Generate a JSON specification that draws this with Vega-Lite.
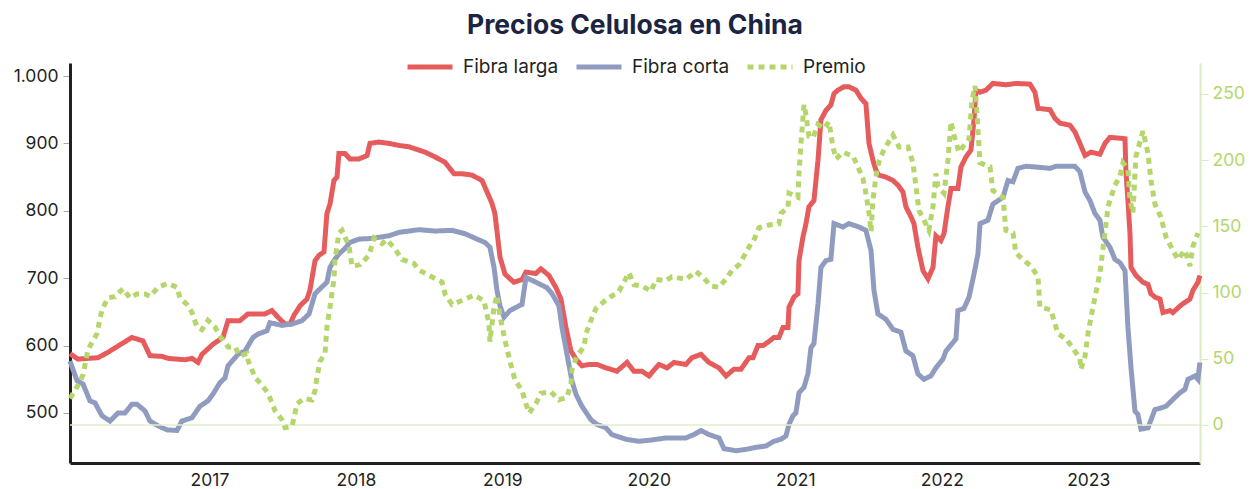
{
"$schema":"https://vega.github.io/schema/vega-lite/v6.json",
"width":1130,"height":400,
"autosize":{"type":"none"},
"padding":{"left":70,"top":63,"right":55,"bottom":26},
"title":{"text":"Precios Celulosa en China","font":"Inter","fontSize":26.5,"fontWeight":"bold","color":"#1b2440","anchor":"middle","offset":3},
"config":{"view":{"stroke":null},"axis":{"grid":false,"title":null,"labelFont":"Inter","labelFontSize":17.5,"labelColor":"#231f20"},
"legend":{"orient":"none","legendX":335,"legendY":-21,"direction":"horizontal","title":null,"labelFont":"Inter","labelFontSize":19,"labelColor":"#231f20","symbolType":"stroke","symbolSize":2025,"symbolStrokeWidth":5,"columnPadding":7,"labelOffset":8}},
"data":{"values":[
{"t":2016.048,"s":"Fibra larga","v":588},{"t":2016.102,"s":"Fibra larga","v":580},{"t":2016.239,"s":"Fibra larga","v":582},{"t":2016.307,"s":"Fibra larga","v":590},{"t":2016.403,"s":"Fibra larga","v":603},{"t":2016.471,"s":"Fibra larga","v":612},{"t":2016.546,"s":"Fibra larga","v":607},{"t":2016.594,"s":"Fibra larga","v":585},{"t":2016.676,"s":"Fibra larga","v":584},{"t":2016.717,"s":"Fibra larga","v":581},{"t":2016.833,"s":"Fibra larga","v":579},{"t":2016.881,"s":"Fibra larga","v":581},{"t":2016.922,"s":"Fibra larga","v":575},{"t":2016.949,"s":"Fibra larga","v":587},{"t":2017.024,"s":"Fibra larga","v":602},{"t":2017.092,"s":"Fibra larga","v":612},{"t":2017.127,"s":"Fibra larga","v":637},{"t":2017.208,"s":"Fibra larga","v":637},{"t":2017.263,"s":"Fibra larga","v":647},{"t":2017.379,"s":"Fibra larga","v":647},{"t":2017.427,"s":"Fibra larga","v":652},{"t":2017.468,"s":"Fibra larga","v":642},{"t":2017.516,"s":"Fibra larga","v":632},{"t":2017.550,"s":"Fibra larga","v":632},{"t":2017.577,"s":"Fibra larga","v":645},{"t":2017.598,"s":"Fibra larga","v":652},{"t":2017.618,"s":"Fibra larga","v":659},{"t":2017.666,"s":"Fibra larga","v":669},{"t":2017.686,"s":"Fibra larga","v":682},{"t":2017.721,"s":"Fibra larga","v":726},{"t":2017.748,"s":"Fibra larga","v":734},{"t":2017.782,"s":"Fibra larga","v":739},{"t":2017.802,"s":"Fibra larga","v":796},{"t":2017.823,"s":"Fibra larga","v":810},{"t":2017.850,"s":"Fibra larga","v":845},{"t":2017.871,"s":"Fibra larga","v":850},{"t":2017.884,"s":"Fibra larga","v":885},{"t":2017.925,"s":"Fibra larga","v":885},{"t":2017.959,"s":"Fibra larga","v":877},{"t":2018.021,"s":"Fibra larga","v":877},{"t":2018.076,"s":"Fibra larga","v":882},{"t":2018.096,"s":"Fibra larga","v":900},{"t":2018.157,"s":"Fibra larga","v":902},{"t":2018.226,"s":"Fibra larga","v":900},{"t":2018.294,"s":"Fibra larga","v":897},{"t":2018.362,"s":"Fibra larga","v":895},{"t":2018.431,"s":"Fibra larga","v":890},{"t":2018.472,"s":"Fibra larga","v":887},{"t":2018.540,"s":"Fibra larga","v":880},{"t":2018.608,"s":"Fibra larga","v":872},{"t":2018.670,"s":"Fibra larga","v":855},{"t":2018.724,"s":"Fibra larga","v":855},{"t":2018.792,"s":"Fibra larga","v":853},{"t":2018.861,"s":"Fibra larga","v":845},{"t":2018.895,"s":"Fibra larga","v":828},{"t":2018.929,"s":"Fibra larga","v":811},{"t":2018.949,"s":"Fibra larga","v":796},{"t":2018.984,"s":"Fibra larga","v":731},{"t":2019.018,"s":"Fibra larga","v":706},{"t":2019.079,"s":"Fibra larga","v":694},{"t":2019.134,"s":"Fibra larga","v":698},{"t":2019.161,"s":"Fibra larga","v":709},{"t":2019.229,"s":"Fibra larga","v":707},{"t":2019.263,"s":"Fibra larga","v":714},{"t":2019.318,"s":"Fibra larga","v":704},{"t":2019.366,"s":"Fibra larga","v":686},{"t":2019.400,"s":"Fibra larga","v":669},{"t":2019.434,"s":"Fibra larga","v":627},{"t":2019.468,"s":"Fibra larga","v":592},{"t":2019.502,"s":"Fibra larga","v":580},{"t":2019.543,"s":"Fibra larga","v":570},{"t":2019.591,"s":"Fibra larga","v":572},{"t":2019.646,"s":"Fibra larga","v":572},{"t":2019.707,"s":"Fibra larga","v":567},{"t":2019.782,"s":"Fibra larga","v":562},{"t":2019.851,"s":"Fibra larga","v":575},{"t":2019.898,"s":"Fibra larga","v":562},{"t":2019.953,"s":"Fibra larga","v":562},{"t":2020.001,"s":"Fibra larga","v":555},{"t":2020.069,"s":"Fibra larga","v":572},{"t":2020.124,"s":"Fibra larga","v":567},{"t":2020.172,"s":"Fibra larga","v":575},{"t":2020.253,"s":"Fibra larga","v":572},{"t":2020.294,"s":"Fibra larga","v":582},{"t":2020.356,"s":"Fibra larga","v":587},{"t":2020.410,"s":"Fibra larga","v":575},{"t":2020.479,"s":"Fibra larga","v":567},{"t":2020.527,"s":"Fibra larga","v":555},{"t":2020.581,"s":"Fibra larga","v":565},{"t":2020.629,"s":"Fibra larga","v":565},{"t":2020.684,"s":"Fibra larga","v":582},{"t":2020.711,"s":"Fibra larga","v":582},{"t":2020.745,"s":"Fibra larga","v":600},{"t":2020.779,"s":"Fibra larga","v":600},{"t":2020.813,"s":"Fibra larga","v":605},{"t":2020.854,"s":"Fibra larga","v":612},{"t":2020.888,"s":"Fibra larga","v":612},{"t":2020.916,"s":"Fibra larga","v":627},{"t":2020.950,"s":"Fibra larga","v":627},{"t":2020.957,"s":"Fibra larga","v":657},{"t":2020.991,"s":"Fibra larga","v":672},{"t":2021.018,"s":"Fibra larga","v":677},{"t":2021.025,"s":"Fibra larga","v":726},{"t":2021.052,"s":"Fibra larga","v":761},{"t":2021.073,"s":"Fibra larga","v":781},{"t":2021.093,"s":"Fibra larga","v":806},{"t":2021.127,"s":"Fibra larga","v":815},{"t":2021.155,"s":"Fibra larga","v":875},{"t":2021.175,"s":"Fibra larga","v":935},{"t":2021.209,"s":"Fibra larga","v":949},{"t":2021.243,"s":"Fibra larga","v":957},{"t":2021.264,"s":"Fibra larga","v":974},{"t":2021.291,"s":"Fibra larga","v":979},{"t":2021.332,"s":"Fibra larga","v":984},{"t":2021.366,"s":"Fibra larga","v":984},{"t":2021.414,"s":"Fibra larga","v":979},{"t":2021.448,"s":"Fibra larga","v":967},{"t":2021.482,"s":"Fibra larga","v":959},{"t":2021.503,"s":"Fibra larga","v":900},{"t":2021.530,"s":"Fibra larga","v":875},{"t":2021.551,"s":"Fibra larga","v":860},{"t":2021.571,"s":"Fibra larga","v":853},{"t":2021.619,"s":"Fibra larga","v":850},{"t":2021.667,"s":"Fibra larga","v":845},{"t":2021.701,"s":"Fibra larga","v":838},{"t":2021.735,"s":"Fibra larga","v":828},{"t":2021.755,"s":"Fibra larga","v":806},{"t":2021.790,"s":"Fibra larga","v":791},{"t":2021.810,"s":"Fibra larga","v":781},{"t":2021.837,"s":"Fibra larga","v":746},{"t":2021.872,"s":"Fibra larga","v":711},{"t":2021.906,"s":"Fibra larga","v":699},{"t":2021.940,"s":"Fibra larga","v":716},{"t":2021.960,"s":"Fibra larga","v":763},{"t":2021.994,"s":"Fibra larga","v":756},{"t":2022.015,"s":"Fibra larga","v":766},{"t":2022.042,"s":"Fibra larga","v":806},{"t":2022.063,"s":"Fibra larga","v":833},{"t":2022.110,"s":"Fibra larga","v":833},{"t":2022.131,"s":"Fibra larga","v":865},{"t":2022.165,"s":"Fibra larga","v":880},{"t":2022.199,"s":"Fibra larga","v":890},{"t":2022.220,"s":"Fibra larga","v":935},{"t":2022.233,"s":"Fibra larga","v":979},{"t":2022.261,"s":"Fibra larga","v":976},{"t":2022.302,"s":"Fibra larga","v":979},{"t":2022.349,"s":"Fibra larga","v":989},{"t":2022.438,"s":"Fibra larga","v":987},{"t":2022.506,"s":"Fibra larga","v":989},{"t":2022.602,"s":"Fibra larga","v":988},{"t":2022.636,"s":"Fibra larga","v":976},{"t":2022.657,"s":"Fibra larga","v":952},{"t":2022.739,"s":"Fibra larga","v":950},{"t":2022.773,"s":"Fibra larga","v":937},{"t":2022.807,"s":"Fibra larga","v":930},{"t":2022.875,"s":"Fibra larga","v":927},{"t":2022.909,"s":"Fibra larga","v":917},{"t":2022.943,"s":"Fibra larga","v":900},{"t":2022.978,"s":"Fibra larga","v":882},{"t":2023.018,"s":"Fibra larga","v":887},{"t":2023.080,"s":"Fibra larga","v":884},{"t":2023.114,"s":"Fibra larga","v":900},{"t":2023.148,"s":"Fibra larga","v":909},{"t":2023.251,"s":"Fibra larga","v":907},{"t":2023.257,"s":"Fibra larga","v":860},{"t":2023.271,"s":"Fibra larga","v":815},{"t":2023.285,"s":"Fibra larga","v":766},{"t":2023.292,"s":"Fibra larga","v":716},{"t":2023.326,"s":"Fibra larga","v":704},{"t":2023.374,"s":"Fibra larga","v":694},{"t":2023.408,"s":"Fibra larga","v":691},{"t":2023.428,"s":"Fibra larga","v":677},{"t":2023.455,"s":"Fibra larga","v":672},{"t":2023.490,"s":"Fibra larga","v":669},{"t":2023.510,"s":"Fibra larga","v":649},{"t":2023.558,"s":"Fibra larga","v":652},{"t":2023.578,"s":"Fibra larga","v":649},{"t":2023.633,"s":"Fibra larga","v":660},{"t":2023.694,"s":"Fibra larga","v":669},{"t":2023.715,"s":"Fibra larga","v":682},{"t":2023.749,"s":"Fibra larga","v":694},{"t":2023.762,"s":"Fibra larga","v":704},
{"t":2016.048,"s":"Fibra corta","v":577},{"t":2016.096,"s":"Fibra corta","v":548},{"t":2016.137,"s":"Fibra corta","v":543},{"t":2016.184,"s":"Fibra corta","v":518},{"t":2016.219,"s":"Fibra corta","v":515},{"t":2016.266,"s":"Fibra corta","v":496},{"t":2016.321,"s":"Fibra corta","v":488},{"t":2016.376,"s":"Fibra corta","v":500},{"t":2016.423,"s":"Fibra corta","v":500},{"t":2016.471,"s":"Fibra corta","v":513},{"t":2016.505,"s":"Fibra corta","v":513},{"t":2016.560,"s":"Fibra corta","v":503},{"t":2016.594,"s":"Fibra corta","v":488},{"t":2016.649,"s":"Fibra corta","v":481},{"t":2016.710,"s":"Fibra corta","v":475},{"t":2016.778,"s":"Fibra corta","v":474},{"t":2016.812,"s":"Fibra corta","v":488},{"t":2016.881,"s":"Fibra corta","v":493},{"t":2016.935,"s":"Fibra corta","v":510},{"t":2016.990,"s":"Fibra corta","v":518},{"t":2017.024,"s":"Fibra corta","v":528},{"t":2017.072,"s":"Fibra corta","v":545},{"t":2017.106,"s":"Fibra corta","v":552},{"t":2017.127,"s":"Fibra corta","v":570},{"t":2017.195,"s":"Fibra corta","v":587},{"t":2017.243,"s":"Fibra corta","v":592},{"t":2017.297,"s":"Fibra corta","v":612},{"t":2017.331,"s":"Fibra corta","v":617},{"t":2017.393,"s":"Fibra corta","v":622},{"t":2017.413,"s":"Fibra corta","v":634},{"t":2017.495,"s":"Fibra corta","v":630},{"t":2017.564,"s":"Fibra corta","v":632},{"t":2017.632,"s":"Fibra corta","v":637},{"t":2017.680,"s":"Fibra corta","v":647},{"t":2017.721,"s":"Fibra corta","v":677},{"t":2017.768,"s":"Fibra corta","v":687},{"t":2017.802,"s":"Fibra corta","v":694},{"t":2017.823,"s":"Fibra corta","v":716},{"t":2017.850,"s":"Fibra corta","v":726},{"t":2017.884,"s":"Fibra corta","v":736},{"t":2017.925,"s":"Fibra corta","v":744},{"t":2017.959,"s":"Fibra corta","v":753},{"t":2018.021,"s":"Fibra corta","v":758},{"t":2018.110,"s":"Fibra corta","v":759},{"t":2018.226,"s":"Fibra corta","v":763},{"t":2018.294,"s":"Fibra corta","v":768},{"t":2018.431,"s":"Fibra corta","v":772},{"t":2018.540,"s":"Fibra corta","v":770},{"t":2018.656,"s":"Fibra corta","v":771},{"t":2018.745,"s":"Fibra corta","v":766},{"t":2018.827,"s":"Fibra corta","v":758},{"t":2018.881,"s":"Fibra corta","v":753},{"t":2018.915,"s":"Fibra corta","v":746},{"t":2018.943,"s":"Fibra corta","v":716},{"t":2018.963,"s":"Fibra corta","v":682},{"t":2018.984,"s":"Fibra corta","v":659},{"t":2019.011,"s":"Fibra corta","v":642},{"t":2019.052,"s":"Fibra corta","v":652},{"t":2019.113,"s":"Fibra corta","v":659},{"t":2019.134,"s":"Fibra corta","v":661},{"t":2019.161,"s":"Fibra corta","v":701},{"t":2019.229,"s":"Fibra corta","v":694},{"t":2019.304,"s":"Fibra corta","v":686},{"t":2019.339,"s":"Fibra corta","v":677},{"t":2019.386,"s":"Fibra corta","v":659},{"t":2019.407,"s":"Fibra corta","v":627},{"t":2019.441,"s":"Fibra corta","v":587},{"t":2019.475,"s":"Fibra corta","v":548},{"t":2019.502,"s":"Fibra corta","v":528},{"t":2019.543,"s":"Fibra corta","v":510},{"t":2019.605,"s":"Fibra corta","v":490},{"t":2019.646,"s":"Fibra corta","v":483},{"t":2019.707,"s":"Fibra corta","v":478},{"t":2019.748,"s":"Fibra corta","v":468},{"t":2019.844,"s":"Fibra corta","v":461},{"t":2019.933,"s":"Fibra corta","v":458},{"t":2020.021,"s":"Fibra corta","v":460},{"t":2020.117,"s":"Fibra corta","v":463},{"t":2020.253,"s":"Fibra corta","v":463},{"t":2020.308,"s":"Fibra corta","v":468},{"t":2020.356,"s":"Fibra corta","v":474},{"t":2020.410,"s":"Fibra corta","v":468},{"t":2020.479,"s":"Fibra corta","v":463},{"t":2020.513,"s":"Fibra corta","v":447},{"t":2020.595,"s":"Fibra corta","v":444},{"t":2020.663,"s":"Fibra corta","v":446},{"t":2020.731,"s":"Fibra corta","v":449},{"t":2020.800,"s":"Fibra corta","v":451},{"t":2020.854,"s":"Fibra corta","v":458},{"t":2020.902,"s":"Fibra corta","v":461},{"t":2020.936,"s":"Fibra corta","v":466},{"t":2020.957,"s":"Fibra corta","v":483},{"t":2020.984,"s":"Fibra corta","v":496},{"t":2021.004,"s":"Fibra corta","v":500},{"t":2021.025,"s":"Fibra corta","v":530},{"t":2021.059,"s":"Fibra corta","v":538},{"t":2021.086,"s":"Fibra corta","v":558},{"t":2021.107,"s":"Fibra corta","v":597},{"t":2021.127,"s":"Fibra corta","v":603},{"t":2021.155,"s":"Fibra corta","v":662},{"t":2021.175,"s":"Fibra corta","v":716},{"t":2021.209,"s":"Fibra corta","v":726},{"t":2021.243,"s":"Fibra corta","v":728},{"t":2021.264,"s":"Fibra corta","v":781},{"t":2021.325,"s":"Fibra corta","v":776},{"t":2021.366,"s":"Fibra corta","v":781},{"t":2021.435,"s":"Fibra corta","v":776},{"t":2021.482,"s":"Fibra corta","v":771},{"t":2021.517,"s":"Fibra corta","v":741},{"t":2021.537,"s":"Fibra corta","v":682},{"t":2021.564,"s":"Fibra corta","v":647},{"t":2021.619,"s":"Fibra corta","v":639},{"t":2021.667,"s":"Fibra corta","v":624},{"t":2021.721,"s":"Fibra corta","v":620},{"t":2021.755,"s":"Fibra corta","v":592},{"t":2021.803,"s":"Fibra corta","v":585},{"t":2021.837,"s":"Fibra corta","v":558},{"t":2021.878,"s":"Fibra corta","v":550},{"t":2021.926,"s":"Fibra corta","v":555},{"t":2021.960,"s":"Fibra corta","v":567},{"t":2022.008,"s":"Fibra corta","v":580},{"t":2022.029,"s":"Fibra corta","v":592},{"t":2022.097,"s":"Fibra corta","v":610},{"t":2022.110,"s":"Fibra corta","v":652},{"t":2022.151,"s":"Fibra corta","v":655},{"t":2022.186,"s":"Fibra corta","v":672},{"t":2022.220,"s":"Fibra corta","v":706},{"t":2022.247,"s":"Fibra corta","v":736},{"t":2022.261,"s":"Fibra corta","v":781},{"t":2022.315,"s":"Fibra corta","v":786},{"t":2022.349,"s":"Fibra corta","v":810},{"t":2022.384,"s":"Fibra corta","v":815},{"t":2022.418,"s":"Fibra corta","v":820},{"t":2022.452,"s":"Fibra corta","v":845},{"t":2022.486,"s":"Fibra corta","v":843},{"t":2022.520,"s":"Fibra corta","v":863},{"t":2022.575,"s":"Fibra corta","v":866},{"t":2022.643,"s":"Fibra corta","v":865},{"t":2022.739,"s":"Fibra corta","v":863},{"t":2022.780,"s":"Fibra corta","v":866},{"t":2022.909,"s":"Fibra corta","v":866},{"t":2022.943,"s":"Fibra corta","v":858},{"t":2022.978,"s":"Fibra corta","v":828},{"t":2023.012,"s":"Fibra corta","v":815},{"t":2023.046,"s":"Fibra corta","v":796},{"t":2023.080,"s":"Fibra corta","v":786},{"t":2023.100,"s":"Fibra corta","v":761},{"t":2023.148,"s":"Fibra corta","v":746},{"t":2023.182,"s":"Fibra corta","v":728},{"t":2023.217,"s":"Fibra corta","v":723},{"t":2023.251,"s":"Fibra corta","v":711},{"t":2023.271,"s":"Fibra corta","v":627},{"t":2023.292,"s":"Fibra corta","v":567},{"t":2023.319,"s":"Fibra corta","v":503},{"t":2023.339,"s":"Fibra corta","v":498},{"t":2023.360,"s":"Fibra corta","v":476},{"t":2023.408,"s":"Fibra corta","v":478},{"t":2023.455,"s":"Fibra corta","v":505},{"t":2023.490,"s":"Fibra corta","v":507},{"t":2023.531,"s":"Fibra corta","v":510},{"t":2023.578,"s":"Fibra corta","v":520},{"t":2023.626,"s":"Fibra corta","v":530},{"t":2023.660,"s":"Fibra corta","v":535},{"t":2023.681,"s":"Fibra corta","v":550},{"t":2023.729,"s":"Fibra corta","v":555},{"t":2023.749,"s":"Fibra corta","v":550},{"t":2023.762,"s":"Fibra corta","v":575},
{"t":2016.048,"s":"Premio","v":20},{"t":2016.102,"s":"Premio","v":30},{"t":2016.137,"s":"Premio","v":38},{"t":2016.171,"s":"Premio","v":57},{"t":2016.232,"s":"Premio","v":69},{"t":2016.266,"s":"Premio","v":87},{"t":2016.307,"s":"Premio","v":96},{"t":2016.355,"s":"Premio","v":97},{"t":2016.410,"s":"Premio","v":103},{"t":2016.457,"s":"Premio","v":96},{"t":2016.505,"s":"Premio","v":99},{"t":2016.560,"s":"Premio","v":99},{"t":2016.594,"s":"Premio","v":97},{"t":2016.649,"s":"Premio","v":104},{"t":2016.717,"s":"Premio","v":107},{"t":2016.778,"s":"Premio","v":104},{"t":2016.799,"s":"Premio","v":96},{"t":2016.847,"s":"Premio","v":91},{"t":2016.881,"s":"Premio","v":85},{"t":2016.915,"s":"Premio","v":74},{"t":2016.949,"s":"Premio","v":72},{"t":2016.990,"s":"Premio","v":79},{"t":2017.038,"s":"Premio","v":74},{"t":2017.072,"s":"Premio","v":67},{"t":2017.127,"s":"Premio","v":59},{"t":2017.174,"s":"Premio","v":59},{"t":2017.208,"s":"Premio","v":52},{"t":2017.256,"s":"Premio","v":54},{"t":2017.263,"s":"Premio","v":49},{"t":2017.311,"s":"Premio","v":36},{"t":2017.359,"s":"Premio","v":30},{"t":2017.400,"s":"Premio","v":24},{"t":2017.447,"s":"Premio","v":11},{"t":2017.495,"s":"Premio","v":4},{"t":2017.516,"s":"Premio","v":-2},{"t":2017.564,"s":"Premio","v":-1},{"t":2017.598,"s":"Premio","v":16},{"t":2017.645,"s":"Premio","v":20},{"t":2017.700,"s":"Premio","v":19},{"t":2017.721,"s":"Premio","v":26},{"t":2017.734,"s":"Premio","v":36},{"t":2017.755,"s":"Premio","v":48},{"t":2017.789,"s":"Premio","v":54},{"t":2017.802,"s":"Premio","v":74},{"t":2017.823,"s":"Premio","v":89},{"t":2017.850,"s":"Premio","v":110},{"t":2017.857,"s":"Premio","v":125},{"t":2017.884,"s":"Premio","v":145},{"t":2017.905,"s":"Premio","v":147},{"t":2017.953,"s":"Premio","v":135},{"t":2017.973,"s":"Premio","v":120},{"t":2018.028,"s":"Premio","v":121},{"t":2018.089,"s":"Premio","v":128},{"t":2018.123,"s":"Premio","v":141},{"t":2018.178,"s":"Premio","v":137},{"t":2018.212,"s":"Premio","v":140},{"t":2018.267,"s":"Premio","v":133},{"t":2018.315,"s":"Premio","v":125},{"t":2018.396,"s":"Premio","v":122},{"t":2018.431,"s":"Premio","v":117},{"t":2018.499,"s":"Premio","v":113},{"t":2018.588,"s":"Premio","v":108},{"t":2018.608,"s":"Premio","v":99},{"t":2018.656,"s":"Premio","v":91},{"t":2018.724,"s":"Premio","v":94},{"t":2018.806,"s":"Premio","v":98},{"t":2018.874,"s":"Premio","v":94},{"t":2018.908,"s":"Premio","v":77},{"t":2018.915,"s":"Premio","v":63},{"t":2018.943,"s":"Premio","v":89},{"t":2018.963,"s":"Premio","v":98},{"t":2018.984,"s":"Premio","v":82},{"t":2019.018,"s":"Premio","v":64},{"t":2019.052,"s":"Premio","v":48},{"t":2019.086,"s":"Premio","v":34},{"t":2019.134,"s":"Premio","v":26},{"t":2019.161,"s":"Premio","v":16},{"t":2019.182,"s":"Premio","v":9},{"t":2019.229,"s":"Premio","v":16},{"t":2019.263,"s":"Premio","v":24},{"t":2019.332,"s":"Premio","v":25},{"t":2019.386,"s":"Premio","v":19},{"t":2019.441,"s":"Premio","v":21},{"t":2019.468,"s":"Premio","v":31},{"t":2019.475,"s":"Premio","v":42},{"t":2019.509,"s":"Premio","v":52},{"t":2019.557,"s":"Premio","v":59},{"t":2019.571,"s":"Premio","v":69},{"t":2019.605,"s":"Premio","v":79},{"t":2019.639,"s":"Premio","v":88},{"t":2019.680,"s":"Premio","v":92},{"t":2019.728,"s":"Premio","v":96},{"t":2019.796,"s":"Premio","v":101},{"t":2019.864,"s":"Premio","v":115},{"t":2019.898,"s":"Premio","v":106},{"t":2019.953,"s":"Premio","v":105},{"t":2020.015,"s":"Premio","v":101},{"t":2020.049,"s":"Premio","v":110},{"t":2020.117,"s":"Premio","v":109},{"t":2020.158,"s":"Premio","v":112},{"t":2020.253,"s":"Premio","v":110},{"t":2020.322,"s":"Premio","v":116},{"t":2020.376,"s":"Premio","v":111},{"t":2020.424,"s":"Premio","v":105},{"t":2020.479,"s":"Premio","v":104},{"t":2020.533,"s":"Premio","v":111},{"t":2020.568,"s":"Premio","v":117},{"t":2020.615,"s":"Premio","v":121},{"t":2020.663,"s":"Premio","v":130},{"t":2020.697,"s":"Premio","v":137},{"t":2020.711,"s":"Premio","v":138},{"t":2020.752,"s":"Premio","v":149},{"t":2020.820,"s":"Premio","v":151},{"t":2020.888,"s":"Premio","v":152},{"t":2020.902,"s":"Premio","v":160},{"t":2020.950,"s":"Premio","v":164},{"t":2020.957,"s":"Premio","v":175},{"t":2021.018,"s":"Premio","v":172},{"t":2021.025,"s":"Premio","v":190},{"t":2021.039,"s":"Premio","v":213},{"t":2021.059,"s":"Premio","v":242},{"t":2021.073,"s":"Premio","v":234},{"t":2021.093,"s":"Premio","v":218},{"t":2021.121,"s":"Premio","v":217},{"t":2021.155,"s":"Premio","v":227},{"t":2021.196,"s":"Premio","v":224},{"t":2021.230,"s":"Premio","v":229},{"t":2021.257,"s":"Premio","v":210},{"t":2021.278,"s":"Premio","v":201},{"t":2021.325,"s":"Premio","v":206},{"t":2021.394,"s":"Premio","v":203},{"t":2021.428,"s":"Premio","v":195},{"t":2021.462,"s":"Premio","v":186},{"t":2021.482,"s":"Premio","v":175},{"t":2021.503,"s":"Premio","v":160},{"t":2021.517,"s":"Premio","v":146},{"t":2021.530,"s":"Premio","v":170},{"t":2021.551,"s":"Premio","v":188},{"t":2021.571,"s":"Premio","v":199},{"t":2021.605,"s":"Premio","v":208},{"t":2021.667,"s":"Premio","v":219},{"t":2021.708,"s":"Premio","v":210},{"t":2021.769,"s":"Premio","v":210},{"t":2021.803,"s":"Premio","v":198},{"t":2021.824,"s":"Premio","v":180},{"t":2021.844,"s":"Premio","v":162},{"t":2021.878,"s":"Premio","v":155},{"t":2021.912,"s":"Premio","v":147},{"t":2021.940,"s":"Premio","v":165},{"t":2021.960,"s":"Premio","v":190},{"t":2021.974,"s":"Premio","v":180},{"t":2022.015,"s":"Premio","v":175},{"t":2022.042,"s":"Premio","v":200},{"t":2022.063,"s":"Premio","v":229},{"t":2022.083,"s":"Premio","v":219},{"t":2022.117,"s":"Premio","v":206},{"t":2022.151,"s":"Premio","v":211},{"t":2022.186,"s":"Premio","v":216},{"t":2022.206,"s":"Premio","v":245},{"t":2022.227,"s":"Premio","v":256},{"t":2022.240,"s":"Premio","v":235},{"t":2022.261,"s":"Premio","v":198},{"t":2022.329,"s":"Premio","v":195},{"t":2022.349,"s":"Premio","v":177},{"t":2022.418,"s":"Premio","v":172},{"t":2022.438,"s":"Premio","v":147},{"t":2022.486,"s":"Premio","v":145},{"t":2022.506,"s":"Premio","v":130},{"t":2022.554,"s":"Premio","v":125},{"t":2022.609,"s":"Premio","v":120},{"t":2022.657,"s":"Premio","v":112},{"t":2022.670,"s":"Premio","v":89},{"t":2022.745,"s":"Premio","v":87},{"t":2022.793,"s":"Premio","v":69},{"t":2022.848,"s":"Premio","v":65},{"t":2022.896,"s":"Premio","v":58},{"t":2022.943,"s":"Premio","v":50},{"t":2022.950,"s":"Premio","v":42},{"t":2022.978,"s":"Premio","v":52},{"t":2022.998,"s":"Premio","v":69},{"t":2023.032,"s":"Premio","v":89},{"t":2023.080,"s":"Premio","v":115},{"t":2023.114,"s":"Premio","v":145},{"t":2023.135,"s":"Premio","v":165},{"t":2023.182,"s":"Premio","v":181},{"t":2023.217,"s":"Premio","v":188},{"t":2023.237,"s":"Premio","v":198},{"t":2023.271,"s":"Premio","v":193},{"t":2023.285,"s":"Premio","v":170},{"t":2023.305,"s":"Premio","v":160},{"t":2023.319,"s":"Premio","v":190},{"t":2023.326,"s":"Premio","v":203},{"t":2023.374,"s":"Premio","v":222},{"t":2023.408,"s":"Premio","v":205},{"t":2023.428,"s":"Premio","v":185},{"t":2023.455,"s":"Premio","v":167},{"t":2023.496,"s":"Premio","v":157},{"t":2023.531,"s":"Premio","v":142},{"t":2023.578,"s":"Premio","v":132},{"t":2023.612,"s":"Premio","v":125},{"t":2023.660,"s":"Premio","v":132},{"t":2023.694,"s":"Premio","v":120},{"t":2023.715,"s":"Premio","v":135},{"t":2023.749,"s":"Premio","v":145}
]},
"layer":[
{"transform":[{"filter":"datum.s != 'Premio'"}],
 "mark":{"type":"line","strokeWidth":5,"strokeJoin":"miter"},
 "encoding":{
  "x":{"field":"t","type":"quantitative","scale":{"domain":[2016.048,2023.763],"nice":false,"zero":false},"axis":{"values":[2017,2018,2019,2020,2021,2022,2023],"format":"d","ticks":false,"domainColor":"#231f20","domainWidth":3,"labelPadding":8}},
  "y":{"field":"v","type":"quantitative","scale":{"domain":[425.8,1019.3],"nice":false,"zero":false},"axis":{"values":[500,600,700,800,900,1000],"format":",d","labelExpr":"replace(datum.label, ',', '.')","tickColor":"#aaaaaa","tickSize":7,"tickWidth":1,"domainColor":"#231f20","domainWidth":3,"labelPadding":5}},
  "color":{"field":"s","type":"nominal","scale":{"domain":["Fibra larga","Fibra corta","Premio"],"range":["#e65c5c","#8f9cbf","#b4d66b"]},"legend":{"title":null}},
  "strokeDash":{"field":"s","type":"nominal","scale":{"domain":["Fibra larga","Fibra corta","Premio"],"range":[[1,0],[1,0],[6,5]]},"legend":{"title":null}}
 }},
{"layer":[
 {"data":{"values":[{}]},"mark":{"type":"rule","color":"#e3eecd","strokeWidth":1.5},
  "encoding":{"y":{"datum":0,"type":"quantitative","scale":{"domain":[-28.7,273.4],"nice":false,"zero":false}}}},
 {"transform":[{"filter":"datum.s == 'Premio'"}],
  "mark":{"type":"line","strokeWidth":5,"strokeCap":"butt"},
  "encoding":{
   "x":{"field":"t","type":"quantitative","scale":{"domain":[2016.048,2023.763],"nice":false,"zero":false}},
   "y":{"field":"v","type":"quantitative","scale":{"domain":[-28.7,273.4],"nice":false,"zero":false},"axis":{"orient":"right","values":[0,50,100,150,200,250],"domainColor":"#dcebc0","domainWidth":2,"tickColor":"#dcebc0","tickSize":8,"labelColor":"#b4d66b","labelPadding":4}},
   "color":{"field":"s","type":"nominal","scale":{"domain":["Fibra larga","Fibra corta","Premio"],"range":["#e65c5c","#8f9cbf","#b4d66b"]},"legend":{"title":null}},
   "strokeDash":{"field":"s","type":"nominal","scale":{"domain":["Fibra larga","Fibra corta","Premio"],"range":[[1,0],[1,0],[6,5]]},"legend":{"title":null}}
  }}
]}
],
"resolve":{"scale":{"y":"independent"}}
}
